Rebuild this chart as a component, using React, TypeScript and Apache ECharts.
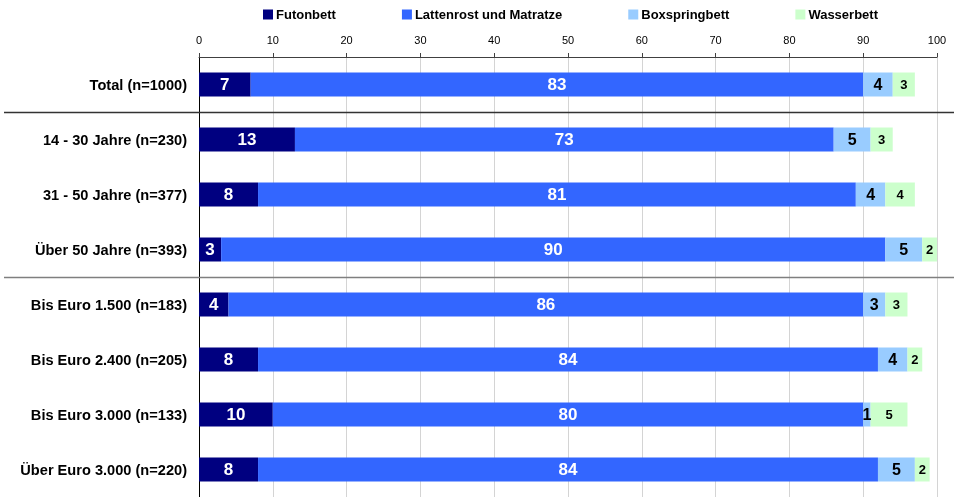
import React, { useEffect, useRef } from "react";
import * as echarts from "echarts";

const categories = [
  "Total (n=1000)",
  "14 - 30 Jahre (n=230)",
  "31 - 50 Jahre (n=377)",
  "Über 50 Jahre (n=393)",
  "Bis Euro 1.500 (n=183)",
  "Bis Euro 2.400 (n=205)",
  "Bis Euro 3.000 (n=133)",
  "Über Euro 3.000 (n=220)",
];
const seriesNames = ["Futonbett", "Lattenrost und Matratze", "Boxspringbett", "Wasserbett"];
const futonbett = [7, 13, 8, 3, 4, 8, 10, 8];
const lattenrost = [83, 73, 81, 90, 86, 84, 80, 84];
const boxspringbett = [4, 5, 4, 5, 3, 4, 1, 5];
const wasserbett = [3, 3, 4, 2, 3, 2, 5, 2];
const xTicks = { min: 0, max: 100, interval: 10 };
const separatorsAfter = [0, 3];

const colors = ["#000080", "#3366FF", "#99CCFF", "#CCFFCC"];
const labelColors = ["#FFFFFF", "#FFFFFF", "#000000", "#000000"];
const labelSizes = [17, 17, 16, 13];

export default function App() {
  const ref = useRef<HTMLDivElement>(null);
  useEffect(() => {
    document.body.style.margin = "0";
    const chart = echarts.init(ref.current!, undefined, { renderer: "svg" });
    const data = [futonbett, lattenrost, boxspringbett, wasserbett];
    chart.setOption({
      animation: false,
      textStyle: { fontFamily: "Liberation Sans, Arial, sans-serif" },
      legend: {
        top: 3,
        left: 258,
        itemWidth: 10,
        itemHeight: 10,
        itemGap: 66,
        icon: "rect",
        textStyle: { fontSize: 13, fontWeight: "bold", color: "#000", padding: [0, 0, 0, -2] },
        data: seriesNames,
      },
      grid: { left: 199, right: 17, top: 57, bottom: 0, containLabel: false },
      xAxis: {
        type: "value",
        position: "top",
        min: xTicks.min,
        max: xTicks.max,
        interval: xTicks.interval,
        axisLine: { show: true, lineStyle: { color: "#404040", width: 1 } },
        axisTick: { show: true, length: 4, lineStyle: { color: "#404040" } },
        axisLabel: { fontSize: 11, color: "#000", margin: 12 },
        splitLine: { show: true, lineStyle: { color: "#d4d4d4", width: 1 } },
      },
      yAxis: {
        type: "category",
        inverse: true,
        data: categories,
        axisLine: { show: true, lineStyle: { color: "#000", width: 1 } },
        axisTick: { show: false },
        axisLabel: { fontSize: 14.6, fontWeight: "bold", color: "#000", margin: 12 },
      },
      series: data.map((d, i) => ({
        name: seriesNames[i],
        type: "bar",
        stack: "total",
        barWidth: 24,
        itemStyle: { color: colors[i] },
        label: {
          show: true,
          position: "inside",
          color: labelColors[i],
          fontSize: labelSizes[i],
          fontWeight: "bold",
        },
        data: d,
      })),
    });
    const graphics = separatorsAfter.map((k, idx) => {
      const y1 = chart.convertToPixel({ yAxisIndex: 0 }, categories[k]) as number;
      const y2 = chart.convertToPixel({ yAxisIndex: 0 }, categories[k + 1]) as number;
      const y = Math.round((y1 + y2) / 2) + 0.5;
      return {
        type: "line",
        shape: { x1: 4, y1: y, x2: 954, y2: y },
        style: { stroke: idx === 0 ? "#333333" : "#7f7f7f", lineWidth: 1.5 },
        z: 10,
      };
    });
    chart.setOption({ graphic: graphics });
    return () => chart.dispose();
  }, []);
  return <div ref={ref} style={{ position: "fixed", left: 0, top: 0, width: 954, height: 497 }} />;
}
